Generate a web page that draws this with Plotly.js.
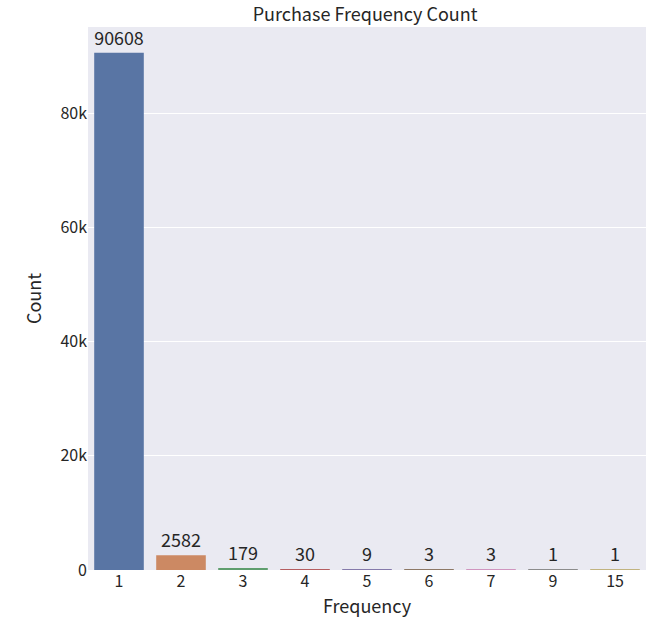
<!DOCTYPE html>
<html>
<head>
<meta charset="utf-8">
<script src="https://cdn.plot.ly/plotly-3.0.1.min.js"></script>
<style>body{margin:0;background:#fff}</style>
</head>
<body>
<div id="chart" style="width:652px;height:624px"></div>
<script>
const frequencies = ["1", "2", "3", "4", "5", "6", "7", "9", "15"];
const counts = [90608, 2582, 179, 30, 9, 3, 3, 1, 1];
const colors = ["#5975a4", "#cc8963", "#5f9e6e", "#b55d60", "#857aab", "#8d7866", "#d095bf", "#8c8c8c", "#c1b37f"];

const fontFam = "Noto Sans CJK KR, DejaVu Sans, sans-serif";

const trace = {
  type: "bar",
  x: frequencies,
  y: counts,
  width: 0.8,
  marker: { color: colors },
  text: counts.map(String),
  textposition: "outside",
  cliponaxis: false,
  textfont: { size: 18, color: "#262626", family: fontFam },
  hoverinfo: "x+y"
};

const layout = {
  width: 652,
  height: 624,
  margin: { l: 88, r: 6, t: 27, b: 54 },
  paper_bgcolor: "#ffffff",
  plot_bgcolor: "#eaeaf2",
  font: { family: fontFam, color: "#262626", size: 16 },
  title: { text: "Purchase Frequency Count", font: { size: 18 }, x: 0.56, xanchor: "center", y: 0.977, yanchor: "middle" },
  showlegend: false,
  bargap: 0.2,
  xaxis: {
    type: "category",
    showgrid: false,
    zeroline: false,
    ticks: "",
    tickfont: { size: 16 },
    title: { text: "Frequency", font: { size: 18 }, standoff: 4 }
  },
  yaxis: {
    range: [0, 95138],
    tickvals: [0, 20000, 40000, 60000, 80000],
    gridcolor: "#ffffff",
    gridwidth: 1,
    zeroline: false,
    ticks: "",
    ticklen: 8,
    tickcolor: "rgba(0,0,0,0)",
    tickfont: { size: 16 },
    title: { text: "Count", font: { size: 18 }, standoff: 14 }
  }
};

Plotly.newPlot("chart", [trace], layout, { displayModeBar: false });
</script>
</body>
</html>
